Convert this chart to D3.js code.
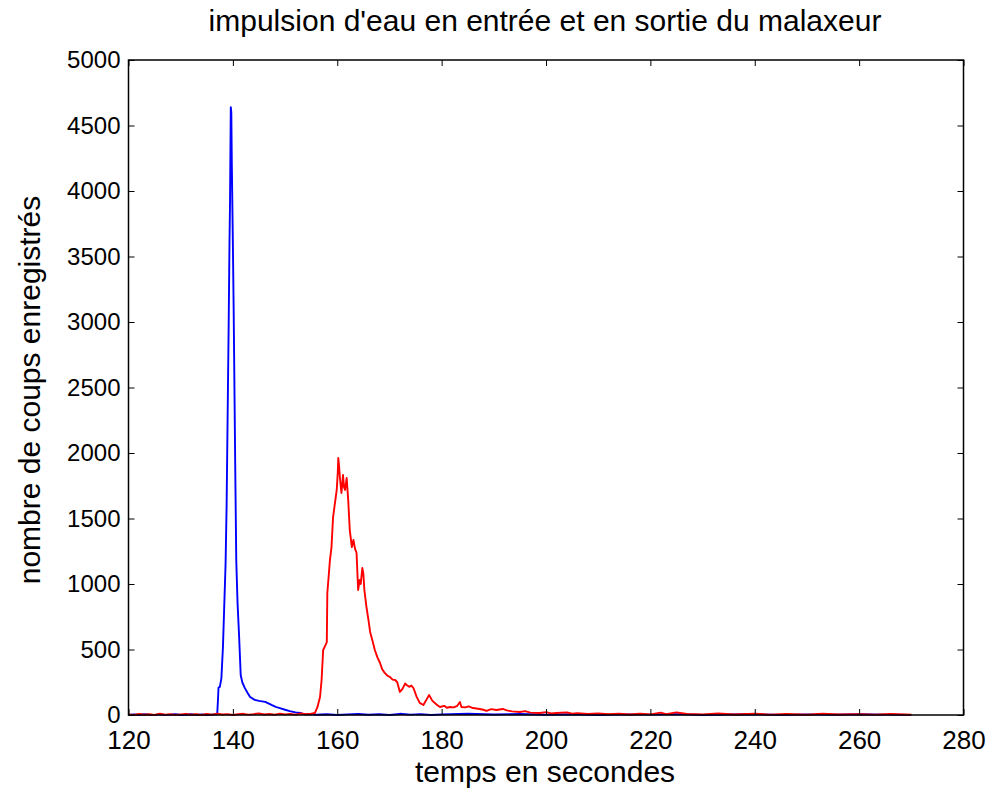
<!DOCTYPE html>
<html>
<head>
<meta charset="utf-8">
<script src="https://cdn.jsdelivr.net/npm/d3@7"></script>
<style>
  html, body { margin: 0; padding: 0; background: #fff; }
  svg { display: block; }
  text { font-family: "Liberation Sans", Arial, Helvetica, sans-serif; fill: #000; }
</style>
</head>
<body>
<div id="chart"></div>
<script>
// ---- data ----
const titleText = "impulsion d'eau en entrée et en sortie du malaxeur";
const xLabel = "temps en secondes";
const yLabel = "nombre de coups enregistrés";
const xTicks = [120, 140, 160, 180, 200, 220, 240, 260, 280];
const yTicks = [0, 500, 1000, 1500, 2000, 2500, 3000, 3500, 4000, 4500, 5000];

// input pulse (blue): [time s, counts]
const entreeTimes = [120,121,122,123,124,125,126,127,128,129,130,131,132,133,134,135,136,137,137.15,137.25,137.5,137.8,138.1,138.4,138.6,138.8,139.0,139.2,139.35,139.45,139.6,139.7,139.8,140.0,140.15,140.3,140.45,140.65,140.9,141.2,141.5,141.8,142.3,142.8,143.3,143.8,144.2,145.0,145.6,146.2,147.0,147.5,148.2,149.0,150.0,150.9,152.0,152.9,153.8,155,156,158,160,162,164,166,168,170,172,174,176,178,180,185,190,195,200,205,210,215,220,225,230,235,240,245,250,255,260,265,270];
const entreeValues = [0,4,0,6,2,0,5,0,3,7,0,2,6,0,4,0,3,6,120,210,215,280,520,900,1150,1600,2300,3000,3600,3900,4640,4600,4200,3600,3100,2500,1900,1180,850,595,305,250,205,170,137,125,115,108,104,100,85,75,62,53,40,30,20,15,5,8,2,6,0,5,8,2,6,0,9,3,7,0,5,10,4,8,2,6,0,5,3,7,0,4,6,0,5,2,6,3,0];

// output pulse (red): [time s, counts]
const sortieTimes = [120,121,122,123,124,125,126,127,128,129,130,131,132,133,134,135,136,137,138,139,140,141,142,143,144,145,146,147,148,149,150,151,152,153,154,155,155.7,156.2,156.7,157.0,157.3,157.7,158.0,158.1,158.6,158.9,159.2,159.5,159.9,160.1,160.2,160.35,160.5,160.8,161.0,161.1,161.3,161.5,161.8,162.1,162.4,162.8,163.1,163.4,163.7,164.0,164.3,164.5,164.8,165.0,165.2,165.6,166.0,166.3,166.8,167.2,167.7,168.2,168.6,169.1,169.6,170.1,170.6,171.1,171.5,172.0,172.5,173.0,173.3,173.8,174.2,174.6,175.2,175.8,176.5,177.0,177.6,178.2,178.7,179.2,179.7,180.5,181.0,181.6,182.3,183.0,183.5,183.8,184.5,185.2,186.0,187.0,188.0,188.6,189.5,190.5,191.7,192.5,193.5,195.0,196,197,198.8,200,201,202,204,205,206,208,210,212,214,216,218,220,222,223,225,227,230,233,236,240,243,246,250,253,256,260,263,266,270];
const sortieValues = [5,0,8,2,6,0,10,3,7,0,5,9,2,6,0,8,3,10,4,7,0,6,9,3,7,12,4,8,2,10,5,9,3,12,6,10,15,60,137,267,496,530,557,931,1183,1282,1511,1600,1718,1850,1962,1900,1817,1695,1780,1832,1740,1718,1809,1641,1412,1282,1336,1270,1237,954,1031,1000,1122,1080,954,824,720,634,560,496,440,397,350,321,300,290,270,267,250,176,200,240,229,215,225,206,140,92,76,110,153,110,92,75,61,70,55,61,58,70,99,61,58,66,53,48,40,31,45,38,46,35,28,23,30,18,15,22,12,15,20,10,14,8,12,6,10,4,9,5,18,6,20,8,5,11,4,9,3,8,2,10,4,7,3,8,2,5];

// ---- layout ----
const W = 992, H = 789;
const mLeft = 128.5, mRight = 963.5, mTop = 60, mBottom = 715;

const svg = d3.select("#chart").append("svg")
  .attr("width", W).attr("height", H);

const x = d3.scaleLinear().domain([120, 280]).range([mLeft, mRight]);
const y = d3.scaleLinear().domain([0, 5000]).range([mBottom, mTop]);

const line = d3.line().x(d => x(d[0])).y(d => y(d[1]));
const entree = d3.zip(entreeTimes, entreeValues);
const sortie = d3.zip(sortieTimes, sortieValues);

const plot = svg.append("g");
plot.append("path").datum(entree)
  .attr("d", line).attr("fill", "none")
  .attr("stroke", "#0000ff").attr("stroke-width", 1.9)
  .attr("stroke-linejoin", "round");
plot.append("path").datum(sortie)
  .attr("d", line).attr("fill", "none")
  .attr("stroke", "#ff0000").attr("stroke-width", 1.9)
  .attr("stroke-linejoin", "round");

// Axes (MATLAB-like: ticks inside, box)
const tl = 6;
const xAxisB = d3.axisBottom(x).tickValues(xTicks).tickSize(-tl).tickPadding(16).tickFormat(d3.format("d"));
const xAxisT = d3.axisTop(x).tickValues(xTicks).tickSize(-tl).tickFormat("");
const yAxisL = d3.axisLeft(y).tickValues(yTicks).tickSize(-tl).tickPadding(8).tickFormat(d3.format("d"));
const yAxisR = d3.axisRight(y).tickValues(yTicks).tickSize(-tl).tickFormat("");

function style(fs) {
  return g => {
    g.select(".domain").remove();
    g.selectAll(".tick line").attr("stroke", "#000").attr("stroke-width", 1);
    g.selectAll(".tick text").attr("font-size", fs).attr("fill", "#000")
      .attr("font-family", "Liberation Sans, Arial, sans-serif");
  };
}
svg.append("g").attr("transform", `translate(0,${mBottom})`).call(xAxisB).call(style(26));
svg.append("g").attr("transform", `translate(0,${mTop})`).call(xAxisT).call(style(26));
svg.append("g").attr("transform", `translate(${mLeft},0)`).call(yAxisL).call(style(24));
svg.append("g").attr("transform", `translate(${mRight},0)`).call(yAxisR).call(style(24));

svg.append("rect").attr("x", mLeft).attr("y", mTop)
  .attr("width", mRight - mLeft).attr("height", mBottom - mTop)
  .attr("fill", "none").attr("stroke", "#000").attr("stroke-width", 1.5);

// Title & labels
svg.append("text").attr("x", 545).attr("y", 31)
  .attr("text-anchor", "middle").attr("font-size", 30).text(titleText);
svg.append("text").attr("x", 545).attr("y", 782)
  .attr("text-anchor", "middle").attr("font-size", 30).text(xLabel);
svg.append("text").attr("transform", `translate(40,390) rotate(-90)`)
  .attr("text-anchor", "middle").attr("font-size", 30).text(yLabel);
</script>
</body>
</html>
